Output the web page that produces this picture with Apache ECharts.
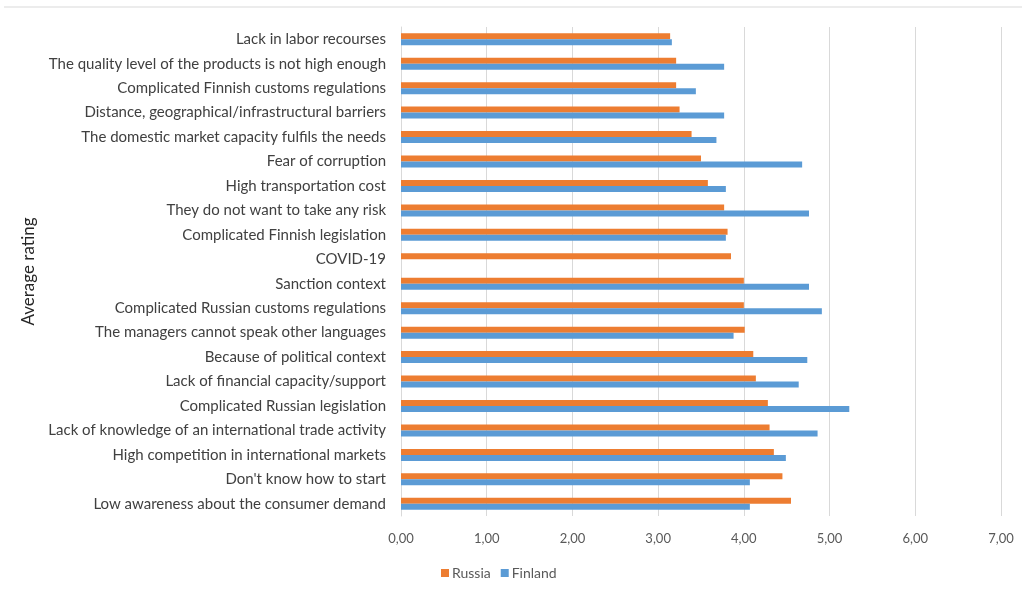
<!DOCTYPE html>
<html><head><meta charset="utf-8">
<script src="https://cdn.jsdelivr.net/npm/echarts@6/dist/echarts.min.js"></script>
<style>html,body{margin:0;padding:0;background:#fff}#c{width:1031px;height:597px}</style>
</head><body><div id="c"></div>
<script>
const categories = [
  "Lack in labor recourses",
  "The quality level of the products is not high enough",
  "Complicated Finnish customs regulations",
  "Distance, geographical/infrastructural barriers",
  "The domestic market capacity fulfils the needs",
  "Fear of corruption",
  "High transportation cost",
  "They do not want to take any risk",
  "Complicated Finnish legislation",
  "COVID-19",
  "Sanction context",
  "Complicated Russian customs regulations",
  "The managers cannot speak other languages",
  "Because of political context",
  "Lack of financial capacity/support",
  "Complicated Russian legislation",
  "Lack of knowledge of an international trade activity",
  "High competition in international markets",
  "Don't know how to start",
  "Low awareness about the consumer demand"
];
const russia = [3.14,3.21,3.21,3.25,3.39,3.50,3.58,3.77,3.81,3.85,4.00,4.00,4.01,4.11,4.14,4.28,4.30,4.35,4.45,4.55];
const finland = [3.16,3.77,3.44,3.77,3.68,4.68,3.79,4.76,3.79,null,4.76,4.91,3.88,4.74,4.64,5.23,4.86,4.49,4.07,4.07];
const xTicks = [0,1,2,3,4,5,6,7];

const chart = echarts.init(document.getElementById('c'));
const font = 'Lato, "Open Sans", sans-serif';
chart.setOption({
  animation: false,
  textStyle: {fontFamily: font},
  graphic: [{type:'line', shape:{x1:4,y1:7,x2:1022,y2:7}, style:{stroke:'#d9d9d9', lineWidth:1}}],
  legend: {
    bottom: 12, left: 436, itemWidth: 8, itemHeight: 8, itemGap: 10,
    icon: 'rect',
    textStyle: {fontFamily: font, fontSize: 14, color: '#595959', padding: [0,0,0,-2]},
    data: ['Russia','Finland']
  },
  grid: {left: 401, right: 30, top: 27, bottom: 81, containLabel: false},
  xAxis: {
    type: 'value', min: xTicks[0], max: xTicks[xTicks.length-1], interval: 1,
    axisLine: {show: false}, axisTick: {show: false},
    splitLine: {lineStyle: {color: '#d9d9d9', width: 1}},
    axisLabel: {color: '#595959', fontSize: 13, margin: 16, fontFamily: font,
      formatter: v => v.toFixed(2).replace('.', ',')}
  },
  yAxis: {
    type: 'category', data: categories, inverse: true,
    name: 'Average rating', nameLocation: 'middle', nameGap: 362,
    nameTextStyle: {fontSize: 17, color: '#262626', fontFamily: font},
    axisLine: {show: true, lineStyle: {color: '#d9d9d9'}},
    axisTick: {show: false},
    axisLabel: {color: '#404040', fontSize: 15, margin: 15, fontFamily: font}
  },
  series: [
    {name: 'Russia', type: 'bar', data: russia, barWidth: 6, barGap: '0%', itemStyle: {color: '#ED7D31'}},
    {name: 'Finland', type: 'bar', data: finland, barWidth: 6, barGap: '0%', itemStyle: {color: '#5B9BD5'}}
  ]
});
</script></body></html>
